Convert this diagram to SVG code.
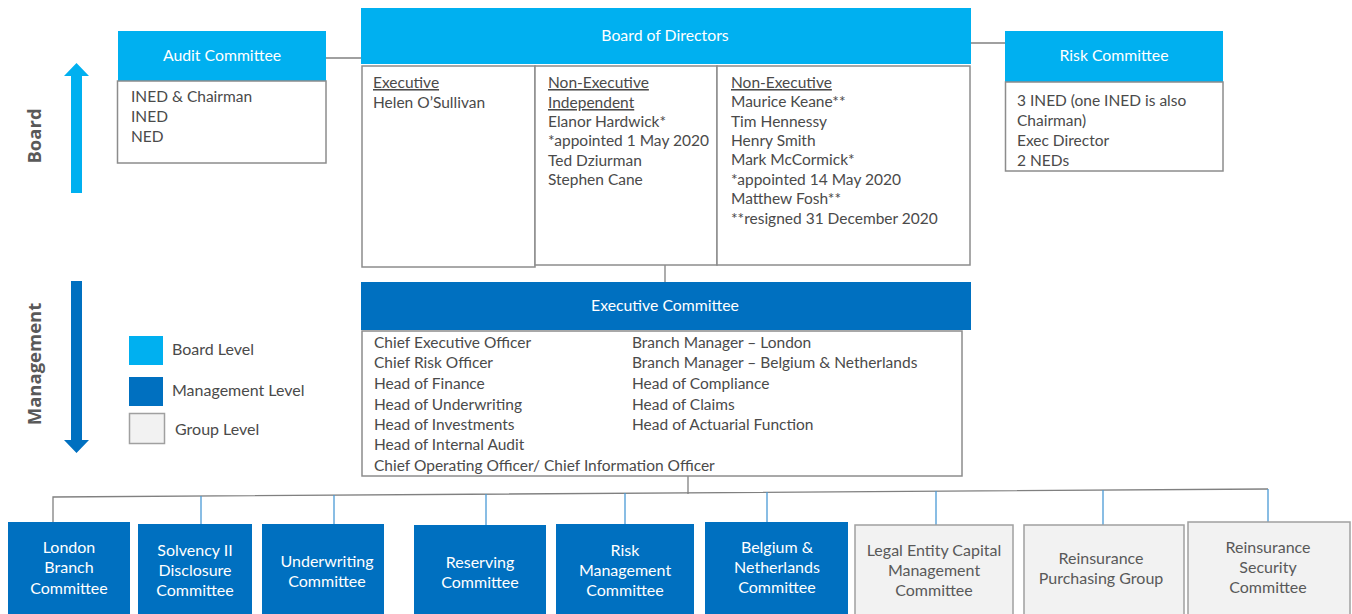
<svg xmlns="http://www.w3.org/2000/svg" width="1352" height="614" viewBox="0 0 1352 614">
<style>
.t{font-family:Lato,"Open Sans","Liberation Sans",sans-serif;font-size:15.5px;fill:#4a4a4a}
.lg{font-family:Lato,"Open Sans","Liberation Sans",sans-serif;font-size:16px;fill:#4a4a4a}
.h{font-family:Lato,"Open Sans","Liberation Sans",sans-serif;font-size:15.8px;fill:#ffffff;text-anchor:middle}
.b{font-family:Lato,"Open Sans","Liberation Sans",sans-serif;font-size:16px;fill:#ffffff;text-anchor:middle}
.g{font-family:Lato,"Open Sans","Liberation Sans",sans-serif;font-size:16px;fill:#595959;text-anchor:middle}
.u{text-decoration:underline}
.lb{fill:#00B0F0}
.db{fill:#0070C0}
.body{fill:#ffffff;stroke:#8c8c8c;stroke-width:1.5}
.grp{fill:#F2F2F2;stroke:#a0a0a0;stroke-width:1.5}
.ln{stroke:#808080;stroke-width:1.3;fill:none}
.bl{stroke:#4a9ad6;stroke-width:1.3;fill:none}
.side{font-family:"Open Sans","Liberation Sans",sans-serif;font-size:18.5px;font-weight:bold;fill:#595959;text-anchor:middle}
</style>

<g id="connectors">
<line class="ln" x1="326" y1="58" x2="361" y2="58"/>
<line class="ln" x1="971" y1="43" x2="1005" y2="43"/>
<line class="ln" x1="665" y1="262" x2="665" y2="282"/>
<line class="ln" x1="688" y1="476" x2="688" y2="494"/>
<polyline class="ln" points="53,522 53,497 1268,489"/>
<line class="bl" x1="201" y1="496" x2="201" y2="524"/>
<line class="bl" x1="334" y1="495" x2="334" y2="524"/>
<line class="bl" x1="486" y1="494" x2="486" y2="525"/>
<line class="bl" x1="625" y1="493" x2="625" y2="524"/>
<line class="bl" x1="767" y1="492" x2="767" y2="522"/>
<line class="bl" x1="936" y1="491" x2="936" y2="525"/>
<line class="bl" x1="1103" y1="490" x2="1103" y2="525"/>
<line class="bl" x1="1268" y1="489" x2="1268" y2="522"/>
</g>

<g id="board-arrow">
<polygon class="lb" points="71,193 82,193 82,76 89,76 76.5,63 64,76 71,76"/>
<text class="side" transform="translate(41,136) rotate(-90)">Board</text>
</g>
<g id="management-arrow">
<polygon class="db" points="71,281 82,281 82,440 89,440 76.5,453 64,440 71,440"/>
<text class="side" transform="translate(41,364) rotate(-90)">Management</text>
</g>

<g id="legend">
<rect class="lb" x="129" y="336" width="34" height="29"/>
<text class="lg" x="172" y="355">Board Level</text>
<rect class="db" x="129" y="377" width="34" height="29"/>
<text class="lg" x="172" y="396">Management Level</text>
<rect class="grp" x="129.5" y="413.5" width="35" height="30"/>
<text class="lg" x="175" y="435">Group Level</text>
</g>

<g id="audit-committee">
<rect class="lb" x="118" y="31" width="208" height="50"/>
<text class="h" x="222" y="61">Audit Committee</text>
<rect class="body" x="117.5" y="81" width="208.5" height="82"/>
<text class="t" x="131" y="102">INED &amp; Chairman</text>
<text class="t" x="131" y="122">INED</text>
<text class="t" x="131" y="142">NED</text>
</g>

<g id="board-of-directors">
<rect class="lb" x="361" y="8" width="610" height="56"/>
<text class="h" x="665" y="41">Board of Directors</text>
<rect class="body" x="362" y="66" width="173" height="201"/>
<rect class="body" x="535" y="66" width="182" height="199"/>
<rect class="body" x="717" y="66" width="253" height="199"/>
<text class="t" x="373" y="88"><tspan class="u">Executive</tspan></text>
<text class="t" x="373" y="108">Helen O’Sullivan</text>
<text class="t" x="548" y="88"><tspan class="u">Non-Executive</tspan></text>
<text class="t" x="548" y="108"><tspan class="u">Independent</tspan></text>
<text class="t" x="548" y="127">Elanor Hardwick*</text>
<text class="t" x="548" y="146">*appointed 1 May 2020</text>
<text class="t" x="548" y="166">Ted Dziurman</text>
<text class="t" x="548" y="185">Stephen Cane</text>
<text class="t" x="731" y="88"><tspan class="u">Non-Executive</tspan></text>
<text class="t" x="731" y="107">Maurice Keane**</text>
<text class="t" x="731" y="127">Tim Hennessy</text>
<text class="t" x="731" y="146">Henry Smith</text>
<text class="t" x="731" y="165">Mark McCormick*</text>
<text class="t" x="731" y="185">*appointed 14 May 2020</text>
<text class="t" x="731" y="204">Matthew Fosh**</text>
<text class="t" x="731" y="224">**resigned 31 December 2020</text>
</g>

<g id="risk-committee">
<rect class="lb" x="1005" y="31" width="218" height="51"/>
<text class="h" x="1114" y="61">Risk Committee</text>
<rect class="body" x="1005.5" y="82" width="217.5" height="89"/>
<text class="t" x="1017" y="106">3 INED (one INED is also</text>
<text class="t" x="1017" y="126">Chairman)</text>
<text class="t" x="1017" y="146">Exec Director</text>
<text class="t" x="1017" y="166">2 NEDs</text>
</g>

<g id="executive-committee">
<rect class="db" x="361" y="282" width="610" height="48"/>
<text class="h" x="665" y="311">Executive Committee</text>
<rect class="body" x="362" y="331" width="600" height="145"/>
<text class="t" x="374" y="348">Chief Executive Officer</text>
<text class="t" x="374" y="368">Chief Risk Officer</text>
<text class="t" x="374" y="389">Head of Finance</text>
<text class="t" x="374" y="410">Head of Underwriting</text>
<text class="t" x="374" y="430">Head of Investments</text>
<text class="t" x="374" y="450">Head of Internal Audit</text>
<text class="t" x="374" y="471">Chief Operating Officer/ Chief Information Officer</text>
<text class="t" x="632" y="348">Branch Manager – London</text>
<text class="t" x="632" y="368">Branch Manager – Belgium &amp; Netherlands</text>
<text class="t" x="632" y="389">Head of Compliance</text>
<text class="t" x="632" y="410">Head of Claims</text>
<text class="t" x="632" y="430">Head of Actuarial Function</text>
</g>

<g id="london-branch-committee">
<rect class="db" x="8" y="522" width="122" height="92"/>
<text class="b" x="69" y="553">London</text>
<text class="b" x="69" y="573">Branch</text>
<text class="b" x="69" y="594">Committee</text>
</g>
<g id="solvency-ii-disclosure-committee">
<rect class="db" x="138" y="524" width="114" height="90"/>
<text class="b" x="195" y="556">Solvency II</text>
<text class="b" x="195" y="576">Disclosure</text>
<text class="b" x="195" y="596">Committee</text>
</g>
<g id="underwriting-committee">
<rect class="db" x="262" y="524" width="122" height="90"/>
<text class="b" x="327" y="567">Underwriting</text>
<text class="b" x="327" y="587">Committee</text>
</g>
<g id="reserving-committee">
<rect class="db" x="414" y="525" width="132" height="89"/>
<text class="b" x="480" y="568">Reserving</text>
<text class="b" x="480" y="588">Committee</text>
</g>
<g id="risk-management-committee">
<rect class="db" x="556" y="524" width="138" height="90"/>
<text class="b" x="625" y="556">Risk</text>
<text class="b" x="625" y="576">Management</text>
<text class="b" x="625" y="596">Committee</text>
</g>
<g id="belgium-netherlands-committee">
<rect class="db" x="705" y="522" width="143" height="92"/>
<text class="b" x="777" y="553">Belgium &amp;</text>
<text class="b" x="777" y="573">Netherlands</text>
<text class="b" x="777" y="593">Committee</text>
</g>
<g id="legal-entity-capital-management-committee">
<rect class="grp" x="855" y="525" width="158" height="92"/>
<text class="g" x="934" y="556">Legal Entity Capital</text>
<text class="g" x="934" y="576">Management</text>
<text class="g" x="934" y="596">Committee</text>
</g>
<g id="reinsurance-purchasing-group">
<rect class="grp" x="1024" y="525" width="160" height="92"/>
<text class="g" x="1101" y="564">Reinsurance</text>
<text class="g" x="1101" y="584">Purchasing Group</text>
</g>
<g id="reinsurance-security-committee">
<rect class="grp" x="1188" y="522" width="162" height="95"/>
<text class="g" x="1268" y="553">Reinsurance</text>
<text class="g" x="1268" y="573">Security</text>
<text class="g" x="1268" y="593">Committee</text>
</g>
</svg>
